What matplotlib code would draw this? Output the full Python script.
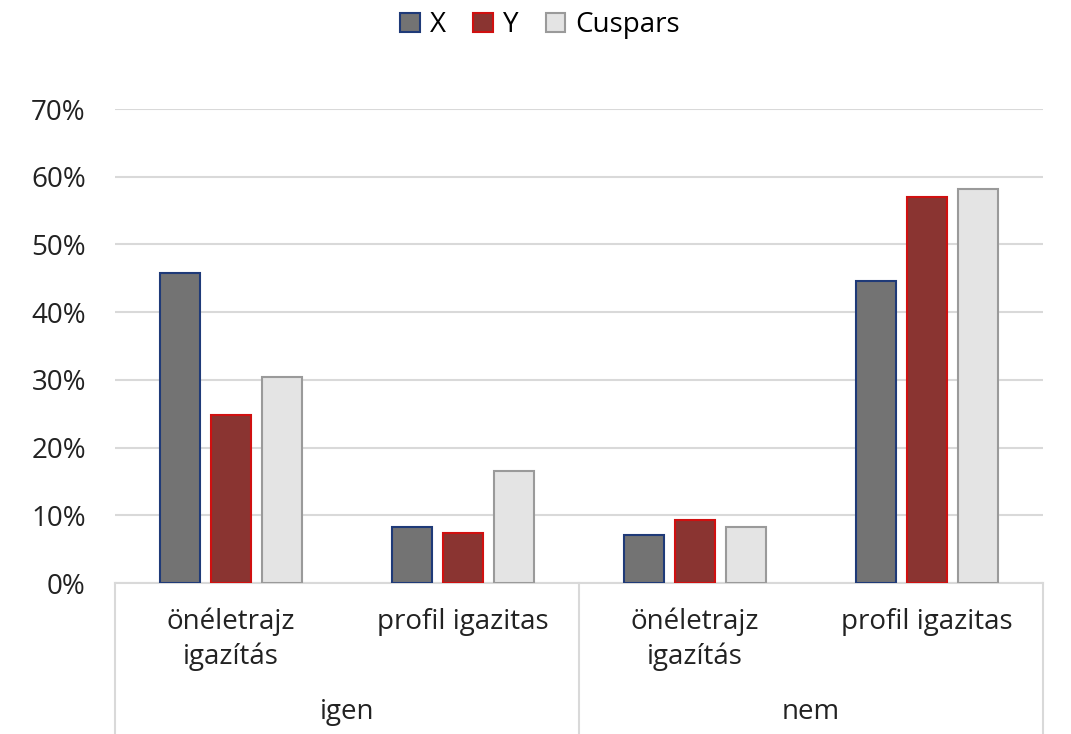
import matplotlib
matplotlib.use("Agg")
import matplotlib.pyplot as plt
import numpy as np
from matplotlib.patches import Patch

plt.rcParams["font.family"] = ["Open Sans", "DejaVu Sans"]

# --- Data ---
groups = ["igen", "nem"]
subcats = ["önéletrajz\nigazítás", "profil igazitas", "önéletrajz\nigazítás", "profil igazitas"]
series_names = ["X", "Y", "Cuspars"]
x_vals = [0.458, 0.083, 0.071, 0.446]
y_vals = [0.248, 0.074, 0.093, 0.570]
c_vals = [0.304, 0.165, 0.083, 0.582]

fills = ["#737373", "#8a3431", "#e4e4e4"]
edges = ["#1f3a78", "#d01010", "#9a9a9a"]

W, H = 1071, 734
fig = plt.figure(figsize=(W / 100, H / 100), dpi=100)
ax = fig.add_axes([115 / W, 1 - 583 / H, 928 / W, 474 / H])

pos = np.arange(len(subcats))
bar_w = 0.172
step = 0.22
for i, (vals, name) in enumerate(zip([x_vals, y_vals, c_vals], series_names)):
    ax.bar(pos + (i - 1) * step, vals, width=bar_w, color=fills[i],
           edgecolor=edges[i], linewidth=1.5, label=name, zorder=3)

ax.set_xlim(-0.5, len(subcats) - 0.5)
ax.set_ylim(0, 0.7)
ax.set_yticks(np.arange(0, 0.71, 0.1))
ax.set_yticklabels([f"{int(round(v * 100))}%" for v in np.arange(0, 0.71, 0.1)])
ax.yaxis.grid(True, color="#d9d9d9", lw=1.5, zorder=0)
ax.tick_params(axis="y", length=0, labelsize=20, pad=21, labelcolor="#222222")
ax.set_xticks([])
for s in ["top", "right", "left"]:
    ax.spines[s].set_visible(False)
ax.spines["bottom"].set_color("#d9d9d9")
ax.spines["bottom"].set_linewidth(1.5)

# multi-level category axis below the plot
trans = ax.get_xaxis_transform()
for xb in [-0.5, 1.5, 3.5]:
    ax.plot([xb, xb], [0, -0.33], transform=trans, color="#d9d9d9", lw=1.5, clip_on=False)
for p, lab in zip(pos, subcats):
    ax.text(p, -0.052, lab, transform=trans, ha="center", va="top", fontsize=20,
            color="#222222", linespacing=1.3)
for g, lab in enumerate(groups):
    ax.text(2 * g + 0.5, -0.272, lab, transform=trans, ha="center", va="center",
            fontsize=20, color="#222222")

handles = [Patch(facecolor=fills[i], edgecolor=edges[i], linewidth=1.5, label=series_names[i])
           for i in range(3)]
fig.legend(handles=handles, loc="center", bbox_to_anchor=(540 / W, 1 - 25 / H), ncol=3,
           frameon=False, fontsize=20, handlelength=0.7, handleheight=0.7,
           handletextpad=0.35, columnspacing=1.0)

fig.savefig("out.png", dpi=100)
